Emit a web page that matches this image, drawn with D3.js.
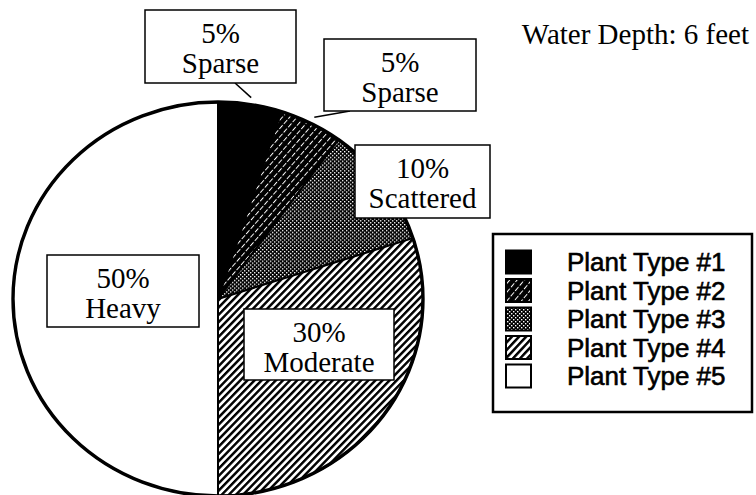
<!DOCTYPE html>
<html>
<head>
<meta charset="utf-8">
<script src="https://cdn.jsdelivr.net/npm/d3@7/dist/d3.min.js"></script>
<style>
  body { margin: 0; background: #fff; }
  svg { display: block; }
</style>
</head>
<body>
<svg id="chart" width="756" height="495"></svg>
<script>
// Plant cover by type at a water depth of 6 feet
const plantTypes = ["Plant Type #1", "Plant Type #2", "Plant Type #3", "Plant Type #4", "Plant Type #5"];
const coverPct   = [5, 5, 10, 30, 50];
const density    = ["Sparse", "Sparse", "Scattered", "Moderate", "Heavy"];
const titleText  = "Water Depth: 6 feet";

// Callout boxes (one per slice) and optional leader anchors on the box edge
const callouts = [
  { x: 145, y: 10,  w: 151, h: 73, leader: [235, 83] },
  { x: 324, y: 39,  w: 152, h: 72, leader: [350, 111] },
  { x: 355, y: 145, w: 135, h: 73 },
  { x: 244, y: 309, w: 150, h: 71 },
  { x: 47,  y: 255, w: 152, h: 72 }
];

const svg = d3.select("#chart");
const cx = 218, cy = 299, rx = 205, ry = 197;
const serif = "'Liberation Serif', 'Times New Roman', serif";
const sans = "'Liberation Sans', Arial, Helvetica, sans-serif";

// ---- fill patterns ----
const defs = svg.append("defs");

// #1 solid black – no pattern needed
// #2 black with thin dashed white diagonals
const p2 = defs.append("pattern").attr("id", "fill2").attr("patternUnits", "userSpaceOnUse")
  .attr("width", 7).attr("height", 5.6).attr("patternTransform", "rotate(-50)");
p2.append("rect").attr("width", 7).attr("height", 5.6).attr("fill", "#000");
p2.append("rect").attr("x", 0).attr("y", 0).attr("width", 5.2).attr("height", 1.0).attr("fill", "#fff");

// #3 fine dotted screen
const p3 = defs.append("pattern").attr("id", "fill3").attr("patternUnits", "userSpaceOnUse")
  .attr("width", 4).attr("height", 4);
p3.append("rect").attr("width", 4).attr("height", 4).attr("fill", "#000");
p3.append("rect").attr("x", 0).attr("y", 0).attr("width", 1.4).attr("height", 1.4).attr("fill", "#fff");
p3.append("rect").attr("x", 2).attr("y", 2).attr("width", 1.4).attr("height", 1.4).attr("fill", "#fff");

// #4 bold black diagonal stripes on white
const p4 = defs.append("pattern").attr("id", "fill4").attr("patternUnits", "userSpaceOnUse")
  .attr("width", 6).attr("height", 5.2).attr("patternTransform", "rotate(-47)");
p4.append("rect").attr("width", 6).attr("height", 5.2).attr("fill", "#fff");
p4.append("rect").attr("x", 0).attr("y", 0).attr("width", 6).attr("height", 2.5).attr("fill", "#000");

const fills = ["#000", "url(#fill2)", "url(#fill3)", "url(#fill4)", "#fff"];
const color = d3.scaleOrdinal().domain(plantTypes).range(fills);

// ---- pie ----
const rows = plantTypes.map((t, i) => ({ type: t, pct: coverPct[i], label: density[i], i }));
const pie = d3.pie().value(d => d.pct).sort(null);
const arcs = pie(rows);
const arc = d3.arc().innerRadius(0).outerRadius(rx);

const pieG = svg.append("g")
  .attr("transform", `translate(${cx},${cy}) scale(1,${ry / rx})`);

pieG.selectAll("path.slice")
  .data(arcs)
  .join("path")
  .attr("class", "slice")
  .attr("d", arc)
  .attr("fill", d => color(d.data.type))
  .attr("stroke", "#000")
  .attr("stroke-width", 2)
  .attr("vector-effect", "non-scaling-stroke");

pieG.append("circle")
  .attr("r", rx)
  .attr("fill", "none")
  .attr("stroke", "#000")
  .attr("stroke-width", 3.4)
  .attr("vector-effect", "non-scaling-stroke");

// ---- leader lines ----
const leaderPoint = (a, k) => {
  const m = (a.startAngle + a.endAngle) / 2;
  return [cx + rx * k * Math.sin(m), cy - ry * k * Math.cos(m)];
};
arcs.forEach((a, i) => {
  const c = callouts[i];
  if (!c.leader) return;
  const end = leaderPoint(a, 1.035);
  svg.append("line")
    .attr("x1", c.leader[0]).attr("y1", c.leader[1])
    .attr("x2", end[0]).attr("y2", end[1])
    .attr("stroke", "#000").attr("stroke-width", 1.5);
});

// ---- callout boxes ----
const boxes = svg.selectAll("g.callout")
  .data(arcs)
  .join("g")
  .attr("class", "callout")
  .attr("transform", (d, i) => `translate(${callouts[i].x},${callouts[i].y})`);

boxes.append("rect")
  .attr("width", (d, i) => callouts[i].w)
  .attr("height", (d, i) => callouts[i].h)
  .attr("fill", "#fff")
  .attr("stroke", "#000")
  .attr("stroke-width", 1.5);

boxes.append("text")
  .attr("x", (d, i) => callouts[i].w / 2)
  .attr("y", 33)
  .attr("text-anchor", "middle")
  .attr("font-family", serif)
  .attr("font-size", 29)
  .text(d => d.data.pct + "%");

boxes.append("text")
  .attr("x", (d, i) => callouts[i].w / 2)
  .attr("y", 63)
  .attr("text-anchor", "middle")
  .attr("font-family", serif)
  .attr("font-size", 29)
  .text(d => d.data.label);

// ---- title ----
svg.append("text")
  .attr("x", 749).attr("y", 44)
  .attr("text-anchor", "end")
  .attr("font-family", serif)
  .attr("font-size", 29)
  .text(titleText);

// ---- legend ----
const legend = svg.append("g").attr("transform", "translate(493,234)");
legend.append("rect")
  .attr("width", 259).attr("height", 178)
  .attr("fill", "#fff").attr("stroke", "#000").attr("stroke-width", 2.5);

const rowY = d3.scalePoint().domain(plantTypes).range([28, 142]);
const item = legend.selectAll("g.item")
  .data(plantTypes)
  .join("g")
  .attr("class", "item")
  .attr("transform", d => `translate(0,${rowY(d)})`);

item.append("rect")
  .attr("x", 13).attr("y", -11.5)
  .attr("width", 25).attr("height", 23)
  .attr("fill", d => color(d))
  .attr("stroke", "#000").attr("stroke-width", 2);

item.append("text")
  .attr("x", 74).attr("y", 9)
  .attr("font-family", sans)
  .attr("font-size", 26)
  .attr("stroke", "#000")
  .attr("stroke-width", 0.6)
  .text(d => d);
</script>
</body>
</html>
